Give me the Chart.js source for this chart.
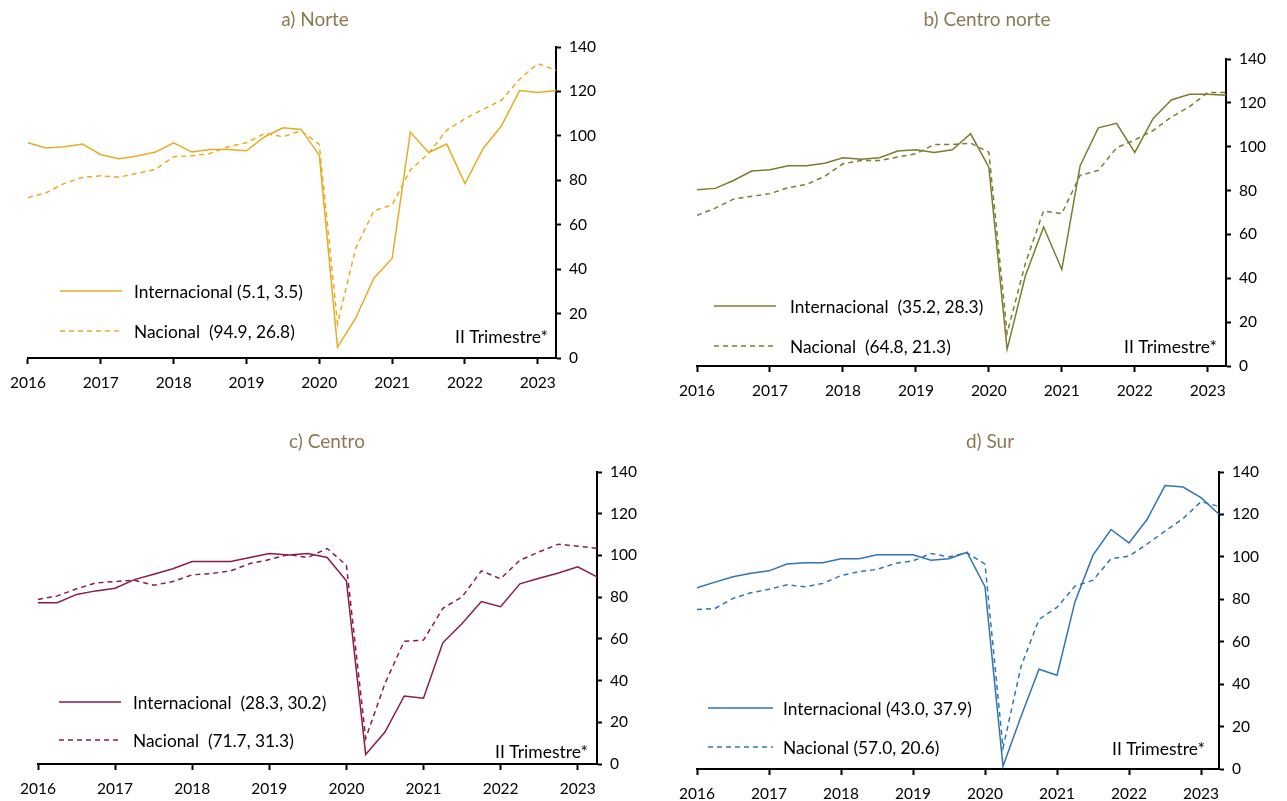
<!DOCTYPE html>
<html><head><meta charset="utf-8">
<script src="https://cdn.jsdelivr.net/npm/chart.js@4.4.0/dist/chart.umd.min.js"></script>
<style>
html,body{margin:0;padding:0;background:#fff;}
#wrap{position:relative;width:1287px;height:801px;overflow:hidden;}
canvas{position:absolute;}
</style></head><body>
<div id="wrap">
<canvas id="cA" width="640" height="400" style="left:0;top:0"></canvas>
<canvas id="cB" width="647" height="400" style="left:640px;top:0"></canvas>
<canvas id="cC" width="640" height="401" style="left:0;top:400px"></canvas>
<canvas id="cD" width="647" height="401" style="left:640px;top:400px"></canvas>
</div>
<script>
const quarters = ['2016 I','2016 II','2016 III','2016 IV','2017 I','2017 II','2017 III','2017 IV',
  '2018 I','2018 II','2018 III','2018 IV','2019 I','2019 II','2019 III','2019 IV',
  '2020 I','2020 II','2020 III','2020 IV','2021 I','2021 II','2021 III','2021 IV',
  '2022 I','2022 II','2022 III','2022 IV','2023 I','2023 II'];
const yearLabels = ['2016','2017','2018','2019','2020','2021','2022','2023'];
const yTicks = [0,20,40,60,80,100,120,140];

const norteInt = [96.9,94.5,95.1,96.3,91.5,89.7,90.9,92.7,96.9,92.7,93.9,93.9,93.3,99.6,103.6,102.9,91.3,4.8,18.0,35.9,44.8,101.7,92.5,96.3,78.5,94.3,104.4,120.4,119.5,120.4];
const norteNac = [72.2,74.4,78.6,81.3,82.0,81.4,83.1,84.9,90.6,91.0,92.1,95.1,96.9,101.1,99.6,102.3,96.1,15.4,49.4,66.3,68.9,84.6,92.1,102.6,107.7,112.0,116.0,125.5,132.5,129.5];
const centroNorteInt = [80.4,81.0,84.6,88.9,89.5,91.3,91.3,92.5,95.0,94.3,95.0,98.0,98.6,97.4,98.6,105.9,90.7,7.6,41.0,63.4,44.0,91.2,108.6,110.7,97.4,112.8,121.3,123.9,123.9,123.5];
const centroNorteNac = [68.7,72.0,76.1,77.4,78.6,81.3,82.8,86.5,92.2,93.7,93.7,95.3,96.8,101.0,101.0,101.6,97.5,14.9,46.7,70.7,69.5,86.9,89.2,99.5,103.1,107.4,113.5,118.3,124.7,124.7];
const centroInt = [77.3,77.3,81.3,83.0,84.3,88.4,91.0,93.6,97.1,97.1,97.1,99.0,100.9,100.2,100.9,99.0,87.8,4.6,15.3,32.6,31.5,58.1,67.4,77.9,75.4,86.4,89.1,91.6,94.5,89.7];
const centroNac = [78.9,80.6,84.0,86.8,87.5,88.1,85.7,87.5,90.7,91.3,92.6,96.1,98.0,100.4,99.0,103.3,95.3,12.3,38.6,58.9,59.4,74.6,80.1,92.6,88.8,97.7,101.7,105.4,104.4,103.4];
const surInt = [85.4,88.1,90.6,92.3,93.4,96.6,97.2,97.2,99.1,99.1,101.0,101.0,101.0,98.4,99.1,102.2,85.9,1.3,24.8,47.0,44.2,78.9,100.8,112.9,106.6,117.6,133.6,132.9,127.9,120.1];
const surNac = [75.2,75.7,80.4,83.1,84.7,86.8,85.9,87.5,91.2,93.0,94.1,96.9,98.1,101.6,100.0,101.9,96.6,9.9,48.3,70.5,76.2,86.2,89.0,99.1,100.3,106.0,112.1,118.0,126.0,123.8];

const titles = ['a) Norte','b) Centro norte','c) Centro','d) Sur'];
const legendInt = ['Internacional (5.1, 3.5)','Internacional  (35.2, 28.3)','Internacional  (28.3, 30.2)','Internacional (43.0, 37.9)'];
const legendNac = ['Nacional  (94.9, 26.8)','Nacional  (64.8, 21.3)','Nacional  (71.7, 31.3)','Nacional (57.0, 20.6)'];
const noteText = 'II Trimestre*';

const FONT = 'Lato, "Open Sans", "DejaVu Sans", sans-serif';

const decor = {
  id: 'decor',
  afterDraw(chart, args, opts) {
    const ctx = chart.ctx;
    ctx.save();
    ctx.textBaseline = 'middle';
    ctx.font = '19px ' + FONT;
    ctx.fillStyle = '#8C7853';
    ctx.textAlign = 'center';
    ctx.fillText(opts.title, opts.titleX, opts.titleY);
    ctx.font = '17.3px ' + FONT;
    chart.data.datasets.forEach((ds, i) => {
      const y = opts.legY[i];
      ctx.strokeStyle = ds.borderColor;
      ctx.lineWidth = 1.5;
      ctx.setLineDash(ds.borderDash || []);
      ctx.beginPath();
      ctx.moveTo(opts.legX1, y);
      ctx.lineTo(opts.legX2, y);
      ctx.stroke();
      ctx.setLineDash([]);
      ctx.fillStyle = '#000';
      ctx.textAlign = 'left';
      ctx.fillText(ds.label, opts.legTX, y + 1);
    });
    ctx.textAlign = 'right';
    ctx.fillStyle = '#000';
    ctx.font = '17.5px ' + FONT;
    ctx.fillText(noteText, opts.noteX, opts.noteY);
    ctx.restore();
  }
};

function makePanel(id, cw, ch, area, color, intData, nacData, idx, dec) {
  const yW = 50, xH = 38;
  new Chart(document.getElementById(id), {
    type: 'line',
    data: {
      labels: quarters,
      datasets: [
        {label: legendInt[idx], data: intData, borderColor: color, borderWidth: 1.5, pointRadius: 0, tension: 0, fill: false},
        {label: legendNac[idx], data: nacData, borderColor: color, borderWidth: 1.5, borderDash: [5, 4], pointRadius: 0, tension: 0, fill: false}
      ]
    },
    options: {
      responsive: false,
      animation: false,
      devicePixelRatio: 1,
      layout: {padding: {left: area.left, top: area.top, right: cw - area.right - yW, bottom: ch - area.bottom - xH}},
      plugins: {
        legend: {display: false},
        title: {display: false},
        tooltip: {enabled: false},
        decor: Object.assign({title: titles[idx]}, dec)
      },
      scales: {
        x: {
          offset: false,
          afterFit(s) { s.height = xH; },
          border: {color: '#000', width: 2},
          grid: {
            drawOnChartArea: false, drawTicks: true, tickLength: 6, tickWidth: 2,
            tickColor: (c) => (c.index % 4 === 0 ? '#000' : 'rgba(0,0,0,0)')
          },
          ticks: {
            autoSkip: false, maxRotation: 0, minRotation: 0, padding: 10,
            color: '#000', font: {family: FONT, size: 15.5},
            callback: (v, i) => (i % 4 === 0 ? yearLabels[i / 4] : '')
          }
        },
        y: {
          position: 'right',
          min: yTicks[0], max: yTicks[yTicks.length - 1],
          afterFit(s) { s.width = yW; },
          afterBuildTicks(s) { s.ticks = yTicks.map(v => ({value: v})); },
          border: {color: '#000', width: 2},
          grid: {drawOnChartArea: false, drawTicks: true, tickLength: 5, tickWidth: 2, tickColor: '#000'},
          ticks: {padding: 8, color: '#000', font: {family: FONT, size: 15.5}}
        }
      }
    },
    plugins: [decor]
  });
}

makePanel('cA', 640, 400, {left: 27, right: 556, top: 47, bottom: 358}, '#E9AB22', norteInt, norteNac, 0,
  {titleX: 315, titleY: 20, legX1: 60, legX2: 122, legTX: 134, legY: [291, 331], noteX: 548, noteY: 337});
makePanel('cB', 647, 400, {left: 57, right: 586, top: 59, bottom: 366}, '#7F7B2E', centroNorteInt, centroNorteNac, 1,
  {titleX: 347, titleY: 20, legX1: 74, legX2: 136, legTX: 150, legY: [306, 346], noteX: 577, noteY: 347});
makePanel('cC', 640, 401, {left: 38, right: 597, top: 72, bottom: 364}, '#8C1C40', centroInt, centroNac, 2,
  {titleX: 327, titleY: 42, legX1: 59, legX2: 121, legTX: 133, legY: [302, 340], noteX: 588, noteY: 352});
makePanel('cD', 647, 401, {left: 57, right: 579, top: 72, bottom: 369}, '#2F75B5', surInt, surNac, 3,
  {titleX: 350, titleY: 42, legX1: 68, legX2: 133, legTX: 143, legY: [308, 347], noteX: 565, noteY: 349});
</script>
</body></html>
